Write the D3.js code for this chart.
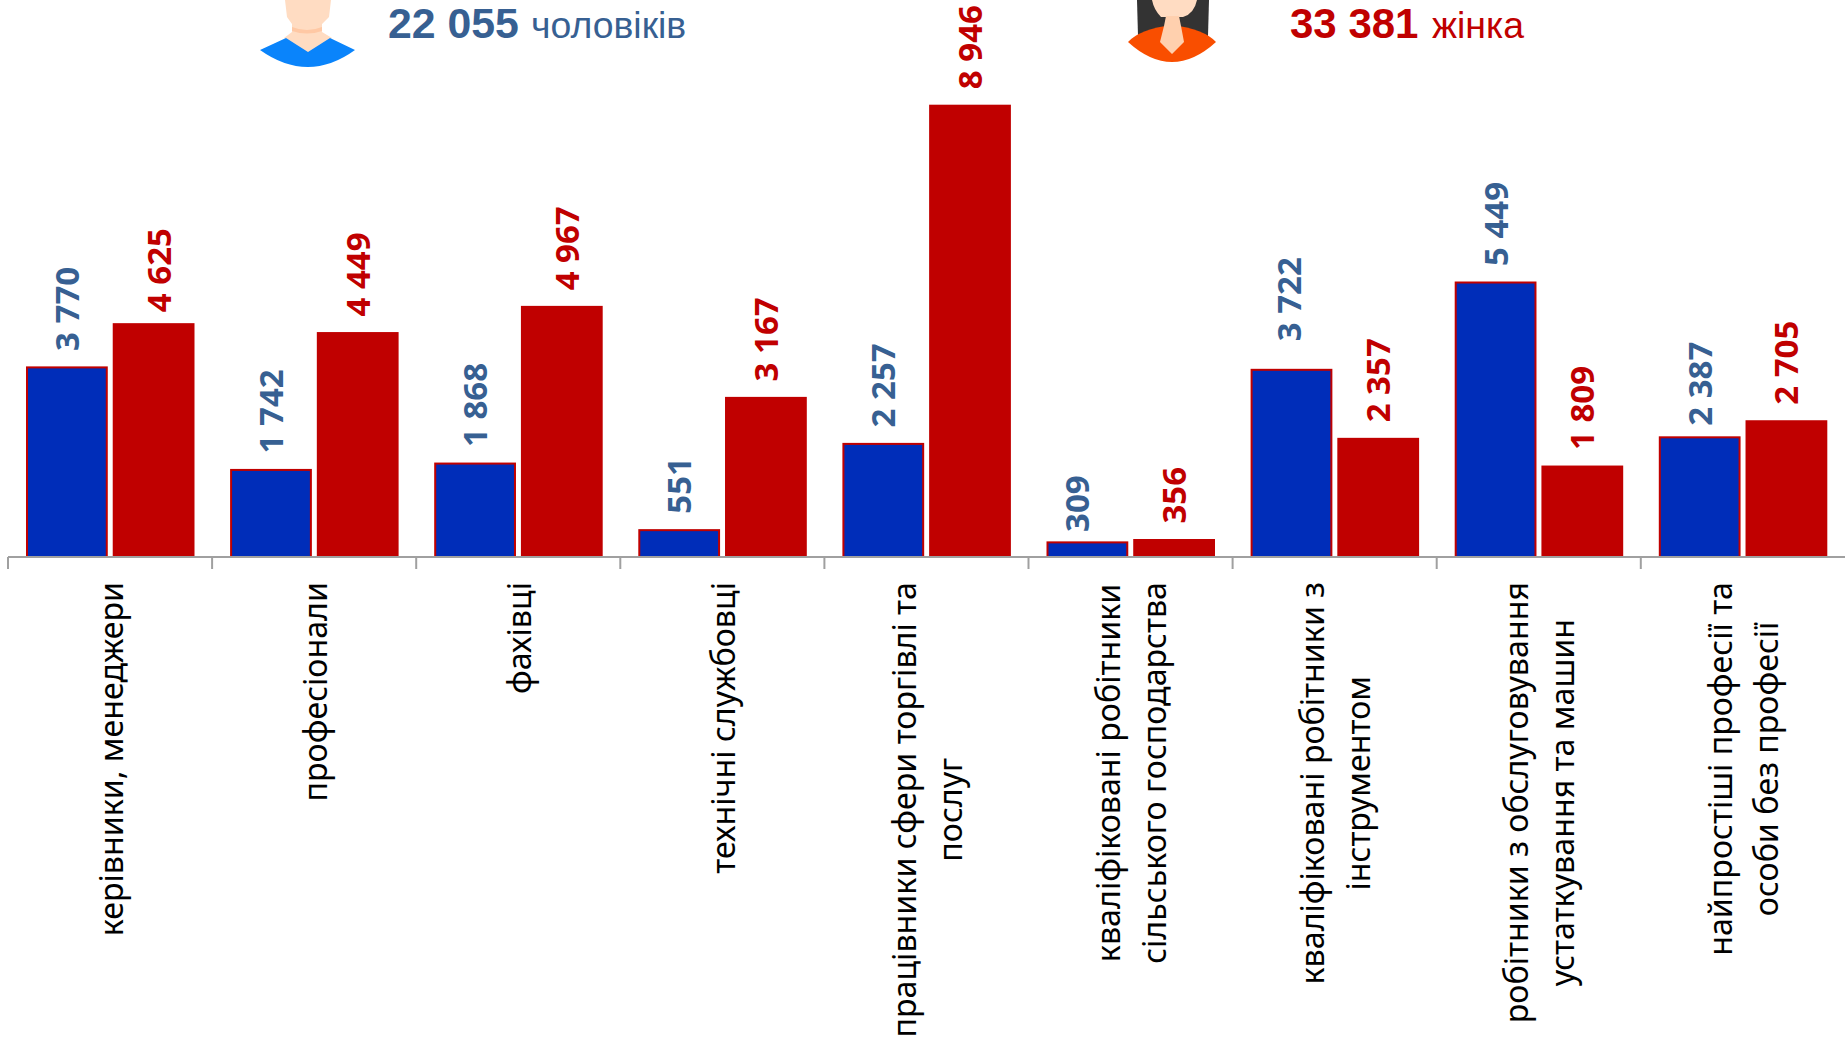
<!DOCTYPE html>
<html>
<head>
<meta charset="utf-8">
<title>Чоловіки та жінки за професійними групами</title>
<script src="https://cdn.jsdelivr.net/npm/d3@7"></script>
<style>
  html, body { margin: 0; padding: 0; background: #fff; overflow: hidden; }
  svg { display: block; }
</style>
</head>
<body>
<svg id="chart" width="1845" height="1037"></svg>
<script>
/////////////////////////////////////////////////////////////////
// Chart data
/////////////////////////////////////////////////////////////////

// "|" marks where a category label wraps
var categories = [
    "керівники, менеджери",
    "професіонали",
    "фахівці",
    "технічні службовці",
    "працівники сфери торгівлі та|послуг",
    "кваліфіковані робітники|сільського господарства",
    "кваліфіковані робітники з|інструментом",
    "робітники з обслуговування|устаткування та машин",
    "найпростіші професії та|особи без професії"
];
var men   = [3770, 1742, 1868, 551, 2257, 309, 3722, 5449, 2387];
var women = [4625, 4449, 4967, 3167, 8946, 356, 2357, 1809, 2705];

var menTotal   = 22055;
var womenTotal = 33381;
var menWord    = "чоловіків";
var womenWord  = "жінка";

// value labels that were moved by hand in the original: [dx, extra gap]
var labelMoves = {
    "women-0": [5, -4.5],
    "women-2": [5, 0],
    "men-5":   [-10.5, -6],
    "men-6":   [-2.5, 12],
    "men-8":   [0, -5]
};

/////////////////////////////////////////////////////////////////
// Layout and colours
/////////////////////////////////////////////////////////////////

var w = 1845;
var h = 1037;

var axisY   = 557;
var axisX0  = 8;
var bandW   = 204.1;
var maxTop  = 104.7;

var blue      = "#002db9";
var red       = "#c00000";
var blueText  = "#376092";
var axisColor = "#a0a0a0";

var catFont = "'Noto Sans', sans-serif";
var numFont = "'Noto Sans', sans-serif";
var topFont = "'Liberation Sans', Arial, sans-serif";

var svg = d3.select("#chart");

var fmt = d3.formatLocale({decimal: ",", thousands: " ", grouping: [3], currency: ["", ""]}).format(",d");

var xScale = d3.scaleBand()
    .domain(categories)
    .range([axisX0, axisX0 + bandW * categories.length]);

var groupScale = d3.scaleBand()
    .domain(["men", "women"])
    .range([18, 186.5])
    .paddingInner(0.057);

var yScale = d3.scaleLinear()
    .domain([0, d3.max(women)])
    .range([axisY, maxTop]);

/////////////////////////////////////////////////////////////////
// Head pictures next to the totals
/////////////////////////////////////////////////////////////////

function drawMan(g) {
    g.append("path").attr("fill", "#ffdcc2")
        .attr("d", "M285,0 L331,0 L329,17 L322,24 L322,32 L332,38 L308,53 L284,38 L292,32 L292,24 L287,17 Z");
    g.append("path").attr("fill", "#ffc8a4")
        .attr("d", "M292,27 Q307,33 322,27 L322,31 Q307,36 292,31 Z");
    g.append("path").attr("fill", "#0a84fb")
        .attr("d", "M260,50 L286,38 L308,52 L330,38 L355,50 Q308,84 260,50 Z");
}

function drawWoman(g) {
    g.append("path").attr("fill", "#333333")
        .attr("d", "M1137,0 L1209,0 L1208,36 L1138,36 Z");
    g.append("path").attr("fill", "#ffdcc2")
        .attr("d", "M1152,0 L1197,0 Q1194,14 1183,17 L1161,17 Q1154,10 1152,0 Z");
    g.append("path").attr("fill", "#f94e00")
        .attr("d", "M1128,42 Q1140,29 1172,25 Q1204,29 1216,42 Q1172,82 1128,42 Z");
    g.append("path").attr("fill", "#ffd0ae")
        .attr("d", "M1166,16 L1179,16 L1181,26 L1184,42 L1172,54 L1160,42 L1164,26 Z");
}

drawMan(svg.append("g"));
drawWoman(svg.append("g"));

/////////////////////////////////////////////////////////////////
// Totals at the top
/////////////////////////////////////////////////////////////////

function drawTotal(x, wordX, total, word, color, size) {
    svg.append("text")
        .attr("x", x).attr("y", 37.5)
        .attr("font-family", topFont).attr("font-size", size).attr("font-weight", "bold")
        .attr("fill", color)
        .text(fmt(total));
    svg.append("text")
        .attr("x", wordX).attr("y", 37.5)
        .attr("font-family", topFont).attr("font-size", 37.4)
        .attr("fill", color)
        .text(word);
}

drawTotal(388, 531, menTotal, menWord, blueText, 42.8);
drawTotal(1290, 1432, womenTotal, womenWord, red, 42);

/////////////////////////////////////////////////////////////////
// Bars
/////////////////////////////////////////////////////////////////

var groups = svg.selectAll("g.cat")
    .data(categories)
    .enter().append("g")
    .attr("class", "cat")
    .attr("transform", function(d) { return "translate(" + xScale(d) + ",0)"; });

groups.append("rect")
    .attr("x", groupScale("men") + 1)
    .attr("y", function(d, i) { return yScale(men[i]) + 1; })
    .attr("width", groupScale.bandwidth() - 2)
    .attr("height", function(d, i) { return axisY - yScale(men[i]) - 1; })
    .attr("fill", blue)
    .attr("stroke", red)
    .attr("stroke-width", 2);

groups.append("rect")
    .attr("x", groupScale("women"))
    .attr("y", function(d, i) { return yScale(women[i]); })
    .attr("width", groupScale.bandwidth())
    .attr("height", function(d, i) { return axisY - yScale(women[i]); })
    .attr("fill", red);

/////////////////////////////////////////////////////////////////
// Value labels, rotated like in the original
/////////////////////////////////////////////////////////////////

function drawValues(key, values, color) {
    groups.append("text")
        .attr("transform", function(d, i) {
            var move = labelMoves[key + "-" + i] || [0, 0];
            var px = groupScale(key) + groupScale.bandwidth() / 2 + move[0] + 12;
            var py = yScale(values[i]) - 15.5 - move[1];
            return "translate(" + px + "," + py + ") rotate(-90)";
        })
        .attr("font-family", numFont)
        .attr("font-size", 33)
        .attr("font-weight", "bold")
        .attr("fill", color)
        .text(function(d, i) { return fmt(values[i]); });
}

drawValues("men", men, blueText);
drawValues("women", women, red);

/////////////////////////////////////////////////////////////////
// Axis: a line with ticks between the categories
/////////////////////////////////////////////////////////////////

var tickX = categories.map(function(d) { return xScale(d); });

svg.append("line")
    .attr("x1", axisX0).attr("x2", w)
    .attr("y1", axisY).attr("y2", axisY)
    .attr("stroke", axisColor).attr("stroke-width", 2);

svg.selectAll("line.tick")
    .data(tickX)
    .enter().append("line")
    .attr("class", "tick")
    .attr("x1", function(d) { return d; }).attr("x2", function(d) { return d; })
    .attr("y1", axisY).attr("y2", axisY + 12)
    .attr("stroke", axisColor).attr("stroke-width", 2);

/////////////////////////////////////////////////////////////////
// Category labels: wrapped lines, centred on the longest one,
// and the block ends just under the axis
/////////////////////////////////////////////////////////////////

var lineGap = 46;

groups.each(function(cat) {
    var g = d3.select(this);
    var lines = cat.split("|");
    var texts = g.selectAll("text.catLine")
        .data(lines)
        .enter().append("text")
        .attr("class", "catLine")
        .attr("font-family", catFont)
        .attr("font-size", 32.2)
        .attr("fill", "#000")
        .attr("text-anchor", "middle")
        .text(function(d) { return d; });

    var longest = d3.max(texts.nodes(), function(n) { return n.getComputedTextLength(); });
    var cx = xScale.bandwidth() / 2 + 12.5;

    texts.attr("transform", function(d, i) {
        var px = cx + (i - (lines.length - 1) / 2) * lineGap;
        return "translate(" + px + "," + (582 + longest / 2) + ") rotate(-90)";
    });
});
</script>
</body>
</html>
